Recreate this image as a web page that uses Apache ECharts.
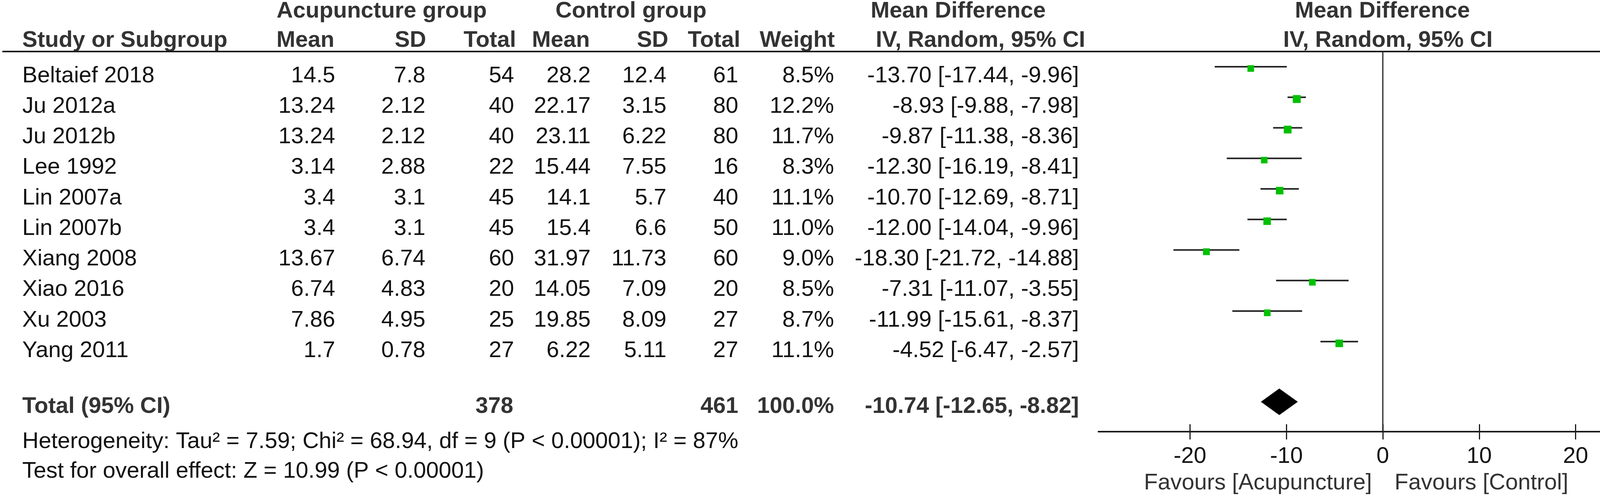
<!DOCTYPE html>
<html>
<head>
<meta charset="utf-8">
<script src="https://cdn.jsdelivr.net/npm/echarts@6/dist/echarts.min.js"></script>
<style>
html, body { margin: 0; padding: 0; background: #fff; overflow: hidden; }
#main { width: 4328px; height: 1276px; }
</style>
</head>
<body>
<div id="main"></div>
<script>
// study rows
var studies = ['Beltaief 2018', 'Ju 2012a', 'Ju 2012b', 'Lee 1992', 'Lin 2007a',
               'Lin 2007b', 'Xiang 2008', 'Xiao 2016', 'Xu 2003', 'Yang 2011'];
var acuMean = [14.5, 13.24, 13.24, 3.14, 3.4, 3.4, 13.67, 6.74, 7.86, 1.7];
var acuSD = [7.8, 2.12, 2.12, 2.88, 3.1, 3.1, 6.74, 4.83, 4.95, 0.78];
var acuTotal = [54, 40, 40, 22, 45, 45, 60, 20, 25, 27];
var ctlMean = [28.2, 22.17, 23.11, 15.44, 14.1, 15.4, 31.97, 14.05, 19.85, 6.22];
var ctlSD = [12.4, 3.15, 6.22, 7.55, 5.7, 6.6, 11.73, 7.09, 8.09, 5.11];
var ctlTotal = [61, 80, 80, 16, 40, 50, 60, 20, 27, 27];
var weight = [8.5, 12.2, 11.7, 8.3, 11.1, 11.0, 9.0, 8.5, 8.7, 11.1];
var md = [-13.70, -8.93, -9.87, -12.30, -10.70, -12.00, -18.30, -7.31, -11.99, -4.52];
var ciLow = [-17.44, -9.88, -11.38, -16.19, -12.69, -14.04, -21.72, -11.07, -15.61, -6.47];
var ciHigh = [-9.96, -7.98, -8.36, -8.41, -8.71, -9.96, -14.88, -3.55, -8.37, -2.57];

// pooled result
var totalAcu = 378;
var totalCtl = 461;
var totalWeight = 100.0;
var totalMD = [-10.74, -12.65, -8.82];

var axisTicks = [-20, -10, 0, 10, 20];
var heterogeneityText = 'Heterogeneity: Tau\u00b2 = 7.59; Chi\u00b2 = 68.94, df = 9 (P < 0.00001); I\u00b2 = 87%';
var overallText = 'Test for overall effect: Z = 10.99 (P < 0.00001)';

var FONT = '"Liberation Sans", Arial, Helvetica, sans-serif';
var FS = 58;
var HEAD = '#333';
var BODY = '#111';
var ROW0 = 171, ROWH = 78.25;   // plot row spacing
var TEXT_DY = 23.5;             // table text sits a bit lower than plot marks
var TOTAL_POS = 10.97;

var chart = echarts.init(document.getElementById('main'), null, { renderer: 'canvas' });

function txt(s, x, y, align, bold, color) {
    return {
        type: 'text', x: x, y: y, silent: true,
        style: {
            text: String(s), fill: color || BODY, fontFamily: FONT, fontSize: FS,
            fontWeight: bold ? 'bold' : 'normal',
            align: align || 'left', verticalAlign: 'middle'
        }
    };
}

function ci(m, l, h) {
    return m.toFixed(2) + ' [' + l.toFixed(2) + ', ' + h.toFixed(2) + ']';
}

var graphics = [];
// header
graphics.push(txt('Acupuncture group', 708, 29, 'left', true, HEAD));
graphics.push(txt('Control group', 1422, 29, 'left', true, HEAD));
graphics.push(txt('Mean Difference', 2229, 29, 'left', true, HEAD));
graphics.push(txt('Mean Difference', 3539, 29, 'center', true, HEAD));
graphics.push(txt('Study or Subgroup', 57, 104, 'left', true, HEAD));
var headCols = [['Mean', 856], ['SD', 1091], ['Total', 1321], ['Mean', 1510],
                ['SD', 1711], ['Total', 1895], ['Weight', 2137]];
headCols.forEach(function (c) { graphics.push(txt(c[0], c[1], 104, 'right', true, HEAD)); });
graphics.push(txt('IV, Random, 95% CI', 2242, 104, 'left', true, HEAD));
graphics.push(txt('IV, Random, 95% CI', 3553, 104, 'center', true, HEAD));
graphics.push({
    type: 'line', silent: true,
    shape: { x1: 6, y1: 132, x2: 4328, y2: 132 },
    style: { stroke: '#1a1a1a', lineWidth: 4 }
});

// study rows
var colRight = [858, 1089, 1316, 1512, 1706, 1890, 2135, 2762];
studies.forEach(function (name, i) {
    var y = ROW0 + ROWH * i + TEXT_DY;
    var vals = [acuMean[i], acuSD[i], acuTotal[i], ctlMean[i], ctlSD[i], ctlTotal[i],
                weight[i].toFixed(1) + '%', ci(md[i], ciLow[i], ciHigh[i])];
    graphics.push(txt(name, 57, y, 'left'));
    vals.forEach(function (v, k) { graphics.push(txt(v, colRight[k], y, 'right')); });
});

// total row and footnotes
graphics.push(txt('Total (95% CI)', 57, 1042, 'left', true, HEAD));
graphics.push(txt(totalAcu, 1314, 1042, 'right', true, HEAD));
graphics.push(txt(totalCtl, 1890, 1042, 'right', true, HEAD));
graphics.push(txt(totalWeight.toFixed(1) + '%', 2135, 1042, 'right', true, HEAD));
graphics.push(txt(ci(totalMD[0], totalMD[1], totalMD[2]), 2762, 1042, 'right', true, HEAD));
graphics.push(txt(heterogeneityText, 57, 1132, 'left'));
graphics.push(txt(overallText, 57, 1208, 'left'));
graphics.push(txt('Favours [Acupuncture]', 3512, 1238, 'right', false, HEAD));
graphics.push(txt('Favours [Control]', 3570, 1238, 'left', false, HEAD));

var studyData = studies.map(function (s, i) {
    return [i, md[i], ciLow[i], ciHigh[i], weight[i]];
});

var option = {
    animation: false,
    backgroundColor: '#fff',
    grid: {
        left: 2812, right: 60, top: ROW0 - 0.5 * ROWH, height: 12.45 * ROWH,
        outerBoundsMode: 'none'
    },
    xAxis: [{
        type: 'value', min: -29.5, max: 29.5, position: 'bottom',
        axisLine: { show: true, onZero: false, lineStyle: { color: '#1a1a1a', width: 4 } },
        axisTick: { show: true, inside: false, length: 20, customValues: axisTicks,
                    lineStyle: { color: '#1a1a1a', width: 3 } },
        axisLabel: { show: true, customValues: axisTicks, margin: 35, fontSize: FS,
                     lineHeight: FS, fontFamily: FONT, color: BODY },
        splitLine: { show: false }
    }, {
        type: 'value', min: -29.5, max: 29.5, position: 'bottom',
        axisLine: { show: false, onZero: false },
        axisTick: { show: true, inside: true, length: 19, customValues: axisTicks,
                    lineStyle: { color: '#1a1a1a', width: 3 } },
        axisLabel: { show: false },
        splitLine: { show: false }
    }],
    yAxis: {
        type: 'value', inverse: true, min: -0.5, max: 11.95, show: false,
        splitLine: { show: false }
    },
    graphic: graphics,
    series: [{
        // line of no effect
        type: 'line', xAxisIndex: 0, silent: true, symbol: 'none',
        data: [[0, -0.5], [0, 11.95]],
        lineStyle: { color: '#222', width: 3 }
    }, {
        type: 'custom', xAxisIndex: 0, silent: true,
        data: studyData,
        encode: { x: [1, 2, 3], y: 0 },
        renderItem: function (params, api) {
            var row = api.value(0);
            var pm = api.coord([api.value(1), row]);
            var pl = api.coord([api.value(2), row]);
            var ph = api.coord([api.value(3), row]);
            var s = 5.8 * Math.sqrt(api.value(4));
            return {
                type: 'group',
                children: [{
                    type: 'line',
                    shape: { x1: pl[0], y1: pl[1], x2: ph[0], y2: ph[1] },
                    style: { stroke: '#222', lineWidth: 4 }
                }, {
                    type: 'rect',
                    shape: { x: pm[0] - s / 2, y: pm[1] - s / 2 + 4.5, width: s, height: s },
                    style: { fill: '#00c000' }
                }]
            };
        }
    }, {
        type: 'custom', xAxisIndex: 0, silent: true,
        data: [[TOTAL_POS, totalMD[0], totalMD[1], totalMD[2]]],
        encode: { x: [1, 2, 3], y: 0 },
        renderItem: function (params, api) {
            var row = api.value(0);
            var pm = api.coord([api.value(1), row]);
            var pl = api.coord([api.value(2), row]);
            var ph = api.coord([api.value(3), row]);
            var h = 34;
            return {
                type: 'polygon',
                shape: { points: [[pl[0], pm[1]], [pm[0], pm[1] - h], [ph[0], pm[1]], [pm[0], pm[1] + h]] },
                style: { fill: '#000' }
            };
        }
    }]
};

chart.setOption(option);
</script>
</body>
</html>
